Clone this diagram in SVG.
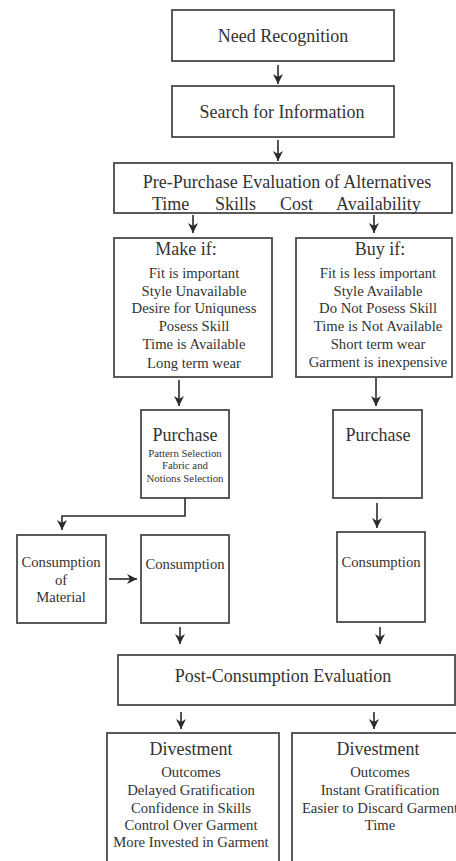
<svg xmlns="http://www.w3.org/2000/svg" width="456" height="861" viewBox="0 0 456 861">
<style>
.b{fill:#fff;stroke:#4a4a4a;stroke-width:1.8}
.t{font-family:"Liberation Serif","Times New Roman",serif;fill:#333;text-anchor:middle}
.h{font-size:18px}
.s{font-size:14.7px}
.xs{font-size:10.8px}
.c{stroke:#2a2a2a;stroke-width:1.6;fill:none}
</style>
<defs>
<marker id="ah" viewBox="0 0 10 10" refX="10" refY="5" markerWidth="10" markerHeight="10" markerUnits="userSpaceOnUse" orient="auto"><path d="M0,0 L10,5 L0,10 L3,5 z" fill="#2a2a2a"/></marker>
</defs>
<rect width="456" height="861" fill="#fff"/>
<g id="need">
<rect class="b" x="172" y="10" width="222" height="51"/>
<text class="t h" x="283" y="42">Need Recognition</text>
</g>
<g id="search">
<rect class="b" x="172" y="86" width="222" height="51"/>
<text class="t h" x="282" y="118">Search for Information</text>
</g>
<g id="prepurchase">
<rect class="b" x="114" y="163" width="338" height="50"/>
<text class="t h" x="287" y="188">Pre-Purchase Evaluation of Alternatives</text>
<text class="t h" style="text-anchor:start" x="152" y="210">Time</text>
<text class="t h" style="text-anchor:start" x="215" y="210">Skills</text>
<text class="t h" style="text-anchor:start" x="280" y="210">Cost</text>
<text class="t h" style="text-anchor:start" x="336" y="210">Availability</text>
</g>
<g id="makeif">
<rect class="b" x="114" y="238" width="158" height="139"/>
<text class="t h" x="186" y="255">Make if:</text>
<text class="t s" x="194" y="278">Fit is important</text>
<text class="t s" x="194" y="296">Style Unavailable</text>
<text class="t s" x="194" y="313">Desire for Uniquness</text>
<text class="t s" x="194" y="331">Posess Skill</text>
<text class="t s" x="194" y="349">Time is Available</text>
<text class="t s" x="194" y="368">Long term wear</text>
</g>
<g id="buyif">
<rect class="b" x="296" y="238" width="156" height="139"/>
<text class="t h" x="380" y="255">Buy if:</text>
<text class="t s" x="378" y="278">Fit is less important</text>
<text class="t s" x="378" y="296">Style Available</text>
<text class="t s" x="378" y="313">Do Not Posess Skill</text>
<text class="t s" x="378" y="331">Time is Not Available</text>
<text class="t s" x="378" y="349">Short term wear</text>
<text class="t s" x="378" y="367">Garment is inexpensive</text>
</g>
<g id="purchaseMake">
<rect class="b" x="141" y="410" width="88" height="88"/>
<text class="t h" x="185" y="441">Purchase</text>
<text class="t xs" x="185" y="457">Pattern Selection</text>
<text class="t xs" x="185" y="469">Fabric and</text>
<text class="t xs" x="185" y="482">Notions Selection</text>
</g>
<g id="purchaseBuy">
<rect class="b" x="333" y="410" width="89" height="88"/>
<text class="t h" x="378" y="441">Purchase</text>
</g>
<g id="consMaterial">
<rect class="b" x="17" y="535" width="89" height="88"/>
<text class="t s" x="61" y="567">Consumption</text>
<text class="t s" x="61" y="585">of</text>
<text class="t s" x="61" y="602">Material</text>
</g>
<g id="consMake">
<rect class="b" x="141" y="535" width="88" height="88"/>
<text class="t s" x="185" y="569">Consumption</text>
</g>
<g id="consBuy">
<rect class="b" x="337" y="532" width="88" height="90"/>
<text class="t s" x="381" y="567">Consumption</text>
</g>
<g id="postcons">
<rect class="b" x="118" y="655" width="337" height="50"/>
<text class="t h" x="283" y="682">Post-Consumption Evaluation</text>
</g>
<g id="divMake">
<rect class="b" x="107" y="733" width="172" height="140"/>
<text class="t h" x="191" y="755">Divestment</text>
<text class="t s" x="191" y="777">Outcomes</text>
<text class="t s" x="191" y="795">Delayed Gratification</text>
<text class="t s" x="191" y="813">Confidence in Skills</text>
<text class="t s" x="191" y="830">Control Over Garment</text>
<text class="t s" x="191" y="847">More Invested in Garment</text>
</g>
<g id="divBuy">
<rect class="b" x="292" y="733" width="180" height="140"/>
<text class="t h" x="378" y="755">Divestment</text>
<text class="t s" x="380" y="777">Outcomes</text>
<text class="t s" x="380" y="795">Instant Gratification</text>
<text class="t s" x="380" y="813">Easier to Discard Garment</text>
<text class="t s" x="380" y="830">Time</text>
</g>
<g id="connectors">
<line class="c" x1="278" y1="65" x2="278" y2="84" marker-end="url(#ah)"/>
<line class="c" x1="278" y1="140" x2="278" y2="161" marker-end="url(#ah)"/>
<line class="c" x1="193" y1="215" x2="193" y2="233" marker-end="url(#ah)"/>
<line class="c" x1="374" y1="215" x2="374" y2="233" marker-end="url(#ah)"/>
<line class="c" x1="179" y1="380" x2="179" y2="406" marker-end="url(#ah)"/>
<line class="c" x1="376" y1="378" x2="376" y2="406" marker-end="url(#ah)"/>
<polyline class="c" points="185,498 185,516 62,516 62,530" marker-end="url(#ah)"/>
<line class="c" x1="377" y1="503" x2="377" y2="528" marker-end="url(#ah)"/>
<line class="c" x1="109" y1="579" x2="137" y2="579" marker-end="url(#ah)"/>
<line class="c" x1="180" y1="627" x2="180" y2="644" marker-end="url(#ah)"/>
<line class="c" x1="380" y1="627" x2="380" y2="644" marker-end="url(#ah)"/>
<line class="c" x1="181" y1="712" x2="181" y2="729" marker-end="url(#ah)"/>
<line class="c" x1="374" y1="712" x2="374" y2="729" marker-end="url(#ah)"/>
</g>
</svg>
